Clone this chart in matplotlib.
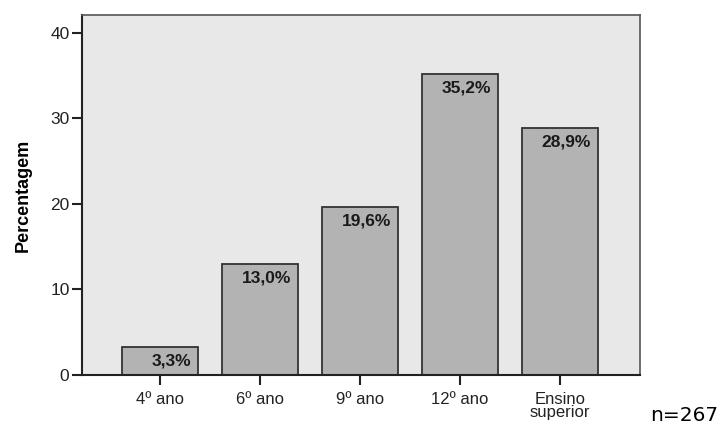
import matplotlib.pyplot as plt

categorias = ["4º ano", "6º ano", "9º ano", "12º ano", "Ensino\nsuperior"]
percentagens = [3.3, 13.0, 19.6, 35.2, 28.9]
rotulos = ["3,3%", "13,0%", "19,6%", "35,2%", "28,9%"]
yticks = [0, 10, 20, 30, 40]

plt.rcParams['font.family'] = ['Liberation Sans', 'DejaVu Sans']

fig = plt.figure(figsize=(7.19, 4.30), dpi=100)
ax = fig.add_axes([82/719, 1 - 375/430, (640-82)/719, (375-15)/430])

x = list(range(len(categorias)))
ax.bar(x, percentagens, width=0.76, color="#b3b3b3", edgecolor="#333333", linewidth=1.3, zorder=2)

# rotulos dentro da barra, junto ao topo (offsets em pontos: px * 0.72)
for xi, v, r in zip(x, percentagens, rotulos):
    ax.annotate(r, (xi + 0.38, v), xytext=(-5, -10), textcoords="offset points",
                ha="right", va="center", fontsize=12.5, fontweight="bold", color="#1a1a1a")

ax.set_facecolor("#e8e8e8")
ax.set_xlim(-0.78, 4.8)
ax.set_ylim(0, 42.1)
ax.set_xticks(x)
ax.set_xticklabels(categorias, fontsize=12, linespacing=0.85)
ax.set_yticks(yticks)
ax.set_yticklabels([str(t) for t in yticks], fontsize=12.5)
ax.tick_params(axis="both", length=7, width=1.5, color="#222222", labelcolor="#222222")
ax.tick_params(axis="x", pad=5)
ax.tick_params(axis="y", pad=2)

for s in ["left", "bottom"]:
    ax.spines[s].set_color("#222222")
    ax.spines[s].set_linewidth(1.5)
for s in ["top", "right"]:
    ax.spines[s].set_color("#555555")
    ax.spines[s].set_linewidth(1.2)

ax.set_ylabel("Percentagem", fontsize=13, fontweight="bold", labelpad=13)

fig.text(0.999, 0.012, "n=267", ha="right", va="bottom", fontsize=14.5, family="DejaVu Sans")

fig.savefig("out.png", dpi=100)
